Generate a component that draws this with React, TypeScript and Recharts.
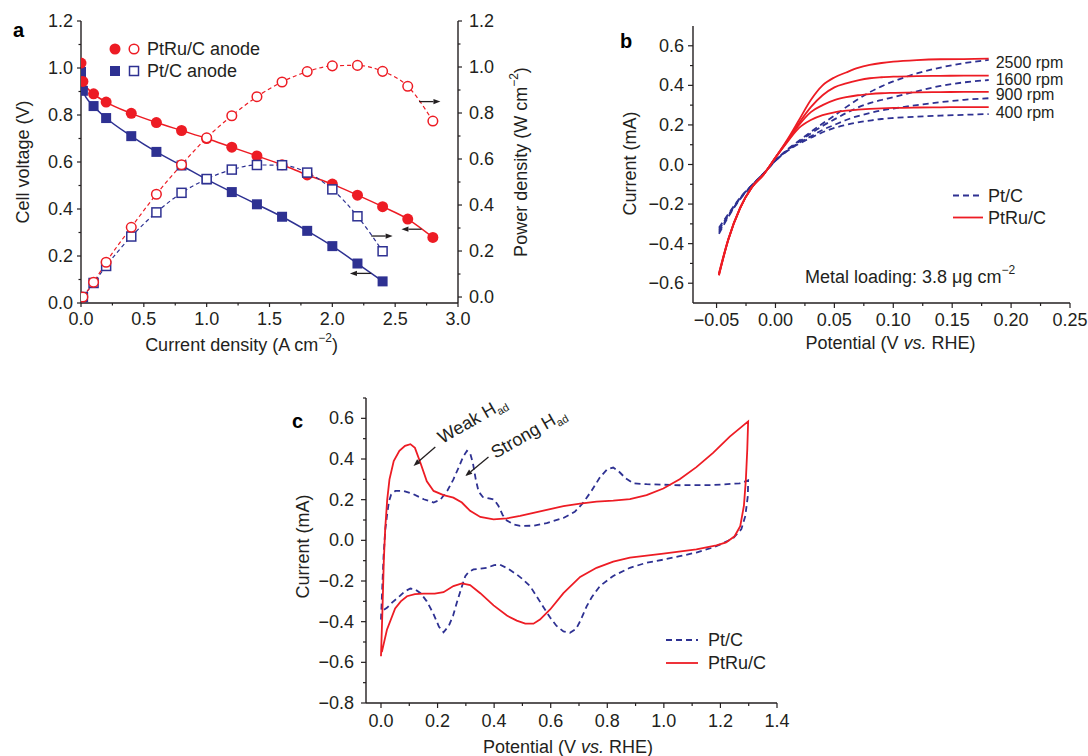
import React from 'react';
import { LineChart, Line, XAxis, YAxis, ReferenceLine, LabelList } from 'recharts';

const INK = '#231f20';
const RED = '#ed1c24';
const BLUE = '#2e3192';
const FONT = '"Liberation Sans", Arial, Helvetica, sans-serif';
const FS = 18;

// ===== Panel a: polarisation (V) and power density curves =====
const currentDensity = [0, 0.015, 0.1, 0.2, 0.4, 0.6, 0.8, 1.0, 1.2, 1.4, 1.6, 1.8, 2.0, 2.2, 2.4, 2.6, 2.8];
const ptRuVoltage = [1.021, 0.943, 0.89, 0.855, 0.807, 0.768, 0.734, 0.7, 0.663, 0.626, 0.588, 0.545, 0.506, 0.459, 0.41, 0.357, 0.279];
const ptVoltage = [0.983, 0.903, 0.838, 0.787, 0.71, 0.643, 0.585, 0.526, 0.472, 0.42, 0.367, 0.307, 0.242, 0.168, 0.092, null, null];
const ptRuPower = [null, 0.0, 0.064, 0.151, 0.303, 0.447, 0.575, 0.692, 0.788, 0.871, 0.935, 0.98, 1.005, 1.007, 0.981, 0.916, 0.765];
const ptPower = [null, 0.0, 0.061, 0.135, 0.263, 0.368, 0.453, 0.513, 0.554, 0.574, 0.573, 0.541, 0.468, 0.351, 0.199, null, null];
const xTicksA = [0, 0.25, 0.5, 0.75, 1, 1.25, 1.5, 1.75, 2, 2.25, 2.5, 2.75, 3];
const yTicksA = [0, 0.1, 0.2, 0.3, 0.4, 0.5, 0.6, 0.7, 0.8, 0.9, 1.0, 1.1, 1.2];
const arrowsA = [
  { from: [2.69, 0.857], to: [2.86, 0.857] },
  { from: [2.71, 0.314], to: [2.55, 0.314] },
  { from: [2.31, 0.285], to: [2.48, 0.285] },
  { from: [2.31, 0.126], to: [2.14, 0.126] },
];

// ===== Panel b: RDE polarisation curves =====
const potentialB = [-0.048, -0.04, -0.03, -0.02, -0.01, 0, 0.01, 0.02, 0.03, 0.04, 0.05, 0.06, 0.07, 0.08, 0.09, 0.1, 0.12, 0.14, 0.16, 0.181];
const ptRu2500 = [-0.56, -0.38, -0.22, -0.115, -0.05, 0.035, 0.125, 0.225, 0.326, 0.4, 0.44, 0.465, 0.488, 0.503, 0.513, 0.52, 0.528, 0.532, 0.533, 0.535];
const ptRu1600 = [-0.56, -0.38, -0.22, -0.115, -0.05, 0.035, 0.12, 0.21, 0.29, 0.35, 0.39, 0.41, 0.425, 0.436, 0.441, 0.444, 0.447, 0.448, 0.449, 0.449];
const ptRu900 = [-0.555, -0.378, -0.22, -0.115, -0.05, 0.035, 0.117, 0.2, 0.265, 0.3, 0.325, 0.34, 0.35, 0.356, 0.36, 0.362, 0.365, 0.366, 0.367, 0.367];
const ptRu400 = [-0.55, -0.375, -0.218, -0.115, -0.05, 0.035, 0.113, 0.185, 0.225, 0.25, 0.264, 0.272, 0.277, 0.281, 0.284, 0.286, 0.288, 0.289, 0.29, 0.29];
const pt2500 = [-0.35, -0.265, -0.175, -0.108, -0.045, 0.02, 0.075, 0.12, 0.165, 0.207, 0.247, 0.29, 0.33, 0.365, 0.395, 0.42, 0.46, 0.49, 0.512, 0.529];
const pt1600 = [-0.34, -0.26, -0.172, -0.106, -0.045, 0.02, 0.072, 0.115, 0.157, 0.195, 0.228, 0.26, 0.288, 0.31, 0.326, 0.34, 0.37, 0.397, 0.415, 0.427];
const pt900 = [-0.33, -0.255, -0.17, -0.105, -0.045, 0.02, 0.07, 0.11, 0.142, 0.175, 0.2, 0.225, 0.245, 0.26, 0.273, 0.283, 0.3, 0.315, 0.327, 0.335];
const pt400 = [-0.32, -0.25, -0.168, -0.104, -0.045, 0.02, 0.068, 0.105, 0.135, 0.163, 0.185, 0.2, 0.213, 0.222, 0.23, 0.235, 0.242, 0.247, 0.251, 0.255];
const rpmLabels = ['2500 rpm', '1600 rpm', '900 rpm', '400 rpm'];
const xTicksB = [-0.05, -0.025, 0, 0.025, 0.05, 0.075, 0.1, 0.125, 0.15, 0.175, 0.2, 0.225, 0.25];
const yTicksB = [-0.6, -0.5, -0.4, -0.3, -0.2, -0.1, 0, 0.1, 0.2, 0.3, 0.4, 0.5, 0.6];

// ===== Panel c: cyclic voltammograms (potential, current) =====
const ptCV: [number, number][] = [
  [0.0, -0.39], [0.004, -0.25], [0.009, -0.08], [0.015, 0.05], [0.021, 0.12], [0.028, 0.19], [0.036, 0.225], [0.051, 0.243],
  [0.08, 0.243], [0.115, 0.227], [0.151, 0.202], [0.186, 0.186], [0.21, 0.2], [0.235, 0.245], [0.256, 0.3], [0.275, 0.36],
  [0.29, 0.41], [0.304, 0.44], [0.315, 0.43], [0.325, 0.38], [0.335, 0.3], [0.345, 0.24], [0.36, 0.213], [0.386, 0.205],
  [0.4, 0.2], [0.415, 0.17], [0.43, 0.125], [0.445, 0.097], [0.47, 0.078], [0.492, 0.071], [0.539, 0.072], [0.586, 0.085],
  [0.645, 0.11], [0.685, 0.14], [0.715, 0.185], [0.745, 0.245], [0.774, 0.31], [0.8, 0.35], [0.821, 0.358], [0.84, 0.34],
  [0.865, 0.305], [0.892, 0.28], [0.939, 0.276], [1.056, 0.271], [1.174, 0.272], [1.268, 0.28], [1.298, 0.295],
  [1.297, 0.22], [1.288, 0.12], [1.274, 0.055], [1.245, 0.01], [1.2, -0.02], [1.174, -0.035], [1.115, -0.06], [1.056, -0.078],
  [0.998, -0.095], [0.939, -0.11], [0.88, -0.135], [0.821, -0.175], [0.774, -0.225], [0.745, -0.28], [0.727, -0.325],
  [0.705, -0.395], [0.69, -0.435], [0.668, -0.455], [0.645, -0.448], [0.62, -0.42], [0.598, -0.38], [0.575, -0.33],
  [0.55, -0.275], [0.527, -0.225], [0.5, -0.19], [0.48, -0.168], [0.45, -0.14], [0.421, -0.12], [0.4, -0.122], [0.374, -0.135],
  [0.35, -0.14], [0.327, -0.143], [0.31, -0.155], [0.298, -0.176], [0.283, -0.24], [0.268, -0.307], [0.255, -0.37],
  [0.24, -0.42], [0.221, -0.452], [0.205, -0.425], [0.185, -0.36], [0.162, -0.3], [0.14, -0.26], [0.12, -0.24], [0.104, -0.237],
  [0.085, -0.25], [0.068, -0.272], [0.04, -0.305], [0.021, -0.332], [0.001, -0.35],
];
const ptRuCV: [number, number][] = [
  [0.0, -0.57], [0.005, -0.35], [0.01, -0.1], [0.015, 0.06], [0.022, 0.2], [0.03, 0.3], [0.045, 0.39], [0.065, 0.44],
  [0.085, 0.465], [0.104, 0.473], [0.12, 0.455], [0.139, 0.383], [0.162, 0.29], [0.186, 0.243], [0.221, 0.222], [0.256, 0.21],
  [0.286, 0.186], [0.315, 0.145], [0.351, 0.115], [0.398, 0.103], [0.445, 0.108], [0.492, 0.12], [0.539, 0.135], [0.586, 0.15],
  [0.645, 0.168], [0.704, 0.18], [0.762, 0.19], [0.821, 0.195], [0.88, 0.203], [0.939, 0.222], [0.998, 0.255], [1.056, 0.3],
  [1.115, 0.36], [1.174, 0.43], [1.233, 0.51], [1.298, 0.585],
  [1.295, 0.45], [1.29, 0.3], [1.283, 0.17], [1.27, 0.07], [1.25, 0.02], [1.22, -0.01], [1.186, -0.025], [1.115, -0.045],
  [0.998, -0.065], [0.88, -0.085], [0.821, -0.105], [0.762, -0.135], [0.704, -0.18], [0.645, -0.26], [0.598, -0.34],
  [0.562, -0.39], [0.539, -0.41], [0.51, -0.41], [0.48, -0.395], [0.445, -0.37], [0.398, -0.32], [0.351, -0.26], [0.315, -0.22],
  [0.286, -0.212], [0.256, -0.225], [0.221, -0.255], [0.19, -0.262], [0.15, -0.262], [0.12, -0.265], [0.092, -0.275],
  [0.07, -0.3], [0.05, -0.335], [0.021, -0.44], [0.003, -0.55],
];
const annotationsC = [
  { text: 'Weak H', from: [0.192, 0.459], to: [0.115, 0.366], dx: 7, dy: -3 },
  { text: 'Strong H', from: [0.38, 0.41], to: [0.298, 0.316], dx: 7, dy: 2 },
];
const xTicksC = [0, 0.1, 0.2, 0.3, 0.4, 0.5, 0.6, 0.7, 0.8, 0.9, 1.0, 1.1, 1.2, 1.3, 1.4];
const yTicksC = [-0.8, -0.7, -0.6, -0.5, -0.4, -0.3, -0.2, -0.1, 0, 0.1, 0.2, 0.3, 0.4, 0.5, 0.6, 0.7];

// ===== tables for recharts =====
const tableA = currentDensity.map((x, i) => ({ x, ptRuV: ptRuVoltage[i], ptV: ptVoltage[i], ptRuP: ptRuPower[i], ptP: ptPower[i] }));
const tableB = potentialB.map((x, i) => ({
  x, r2500: ptRu2500[i], r1600: ptRu1600[i], r900: ptRu900[i], r400: ptRu400[i],
  p2500: pt2500[i], p1600: pt1600[i], p900: pt900[i], p400: pt400[i],
}));
const ptCVData = ptCV.map(([x, y]) => ({ x, y }));
const ptRuCVData = ptRuCV.map(([x, y]) => ({ x, y }));

// ===== helpers =====
const near = (v: number, step: number) => Math.abs(v / step - Math.round(v / step)) < 1e-6;
const fmt = (digits: number) => (v: number) => {
  const r = Math.abs(v) < 1e-9 ? 0 : v;
  return (r < 0 ? '\u2212' : '') + Math.abs(r).toFixed(digits);
};
const textStyle = { fontFamily: FONT, fontSize: FS, fill: INK };
type Side = 'left' | 'right' | 'bottom' | 'top';
const makeTick = (side: Side, step: number, format: ((v: number) => string) | null,
  o: { major?: number; minor?: number; gap?: number; inward?: boolean } = {}) => (props: any) => {
  const { x, y, payload } = props;
  const v = Number(payload?.value);
  const isMajor = near(v, step);
  const len = isMajor ? (o.major ?? 5) : (o.minor ?? 3);
  const s = o.inward ? -1 : 1;
  const gap = o.gap ?? 10;
  let l: React.ReactNode = null;
  let t: React.ReactNode = null;
  const label = isMajor && format ? format(v) : null;
  if (side === 'left') {
    l = <line x1={x} y1={y} x2={x - s * len} y2={y} />;
    if (label) t = <text x={x - gap} y={y} textAnchor="end" dominantBaseline="central" {...textStyle}>{label}</text>;
  } else if (side === 'right') {
    l = <line x1={x} y1={y} x2={x + s * len} y2={y} />;
    if (label) t = <text x={x + gap} y={y} textAnchor="start" dominantBaseline="central" {...textStyle}>{label}</text>;
  } else if (side === 'bottom') {
    l = <line x1={x} y1={y} x2={x} y2={y + s * len} />;
    if (label) t = <text x={x} y={y + gap} textAnchor="middle" dominantBaseline="central" {...textStyle}>{label}</text>;
  } else {
    l = <line x1={x} y1={y} x2={x} y2={y - s * len} />;
  }
  return (
    <g>
      <g stroke={INK} strokeWidth={1.2}>{l}</g>
      {t}
    </g>
  );
};

const axisLine = { stroke: INK, strokeWidth: 1.4 };
const sup = (s: string) => [
  <tspan key="s" dy={-7} fontSize={12}>{s}</tspan>,
  <tspan key="r" dy={7}>)</tspan>,
];
const yTitle = (content: React.ReactNode, dx: number, dy = 0) => (props: any) => {
  const vb = props.viewBox || { x: 0, y: 0, width: 0, height: 0 };
  const cx = vb.x + dx;
  const cy = vb.y + vb.height / 2 + dy;
  return (
    <text x={cx} y={cy} transform={`rotate(-90 ${cx} ${cy})`} textAnchor="middle" dominantBaseline="central" {...textStyle}>
      {content}
    </text>
  );
};
const xTitle = (content: React.ReactNode, dx: number, dy: number) => (props: any) => {
  const vb = props.viewBox || { x: 0, y: 0, width: 0, height: 0 };
  const cx = vb.x + vb.width / 2 + dx;
  const cy = vb.y + dy;
  return (
    <text x={cx} y={cy} textAnchor="middle" dominantBaseline="central" {...textStyle}>{content}</text>
  );
};

const arrowPath = (x1: number, y1: number, x2: number, y2: number) => {
  const ang = Math.atan2(y2 - y1, x2 - x1);
  const L = 7;
  const W = 2.6;
  const bx = x2 - L * Math.cos(ang);
  const by = y2 - L * Math.sin(ang);
  const p1 = `${bx + W * Math.sin(ang)},${by - W * Math.cos(ang)}`;
  const p2 = `${bx - W * Math.sin(ang)},${by + W * Math.cos(ang)}`;
  return (
    <g>
      <line x1={x1} y1={y1} x2={bx} y2={by} stroke={INK} strokeWidth={1.3} />
      <polygon points={`${x2},${y2} ${p1} ${p2}`} fill={INK} />
    </g>
  );
};
const arrowShape = (props: any) => arrowPath(props.x1, props.y1, props.x2, props.y2);
const annotatedArrow = (text: string, dx: number, dy: number) => (props: any) => {
  const tx = props.x1 + dx;
  const ty = props.y1 + dy;
  return (
    <g>
      {arrowPath(props.x1, props.y1, props.x2, props.y2)}
      <text x={tx} y={ty} transform={`rotate(-30 ${tx} ${ty})`} {...textStyle}>
        {text}
        <tspan dy={4} fontSize={11}>ad</tspan>
      </text>
    </g>
  );
};

const dotFilledCircle = (p: any) =>
  p.cx == null || p.cy == null || p.value == null ? <g key={`a${p.index}`} /> :
    <circle key={`a${p.index}`} cx={p.cx} cy={p.cy} r={5.5} fill={RED} />;
const dotOpenCircle = (p: any) =>
  p.cx == null || p.cy == null || p.value == null ? <g key={`b${p.index}`} /> :
    <circle key={`b${p.index}`} cx={p.cx} cy={p.cy} r={4.8} fill="#fff" stroke={RED} strokeWidth={1.5} />;
const dotFilledSquare = (p: any) =>
  p.cx == null || p.cy == null || p.value == null ? <g key={`c${p.index}`} /> :
    <rect key={`c${p.index}`} x={p.cx - 5} y={p.cy - 5} width={10} height={10} fill={BLUE} />;
const dotOpenSquare = (p: any) =>
  p.cx == null || p.cy == null || p.value == null ? <g key={`d${p.index}`} /> :
    <rect key={`d${p.index}`} x={p.cx - 4.5} y={p.cy - 4.5} width={9} height={9} fill="#fff" stroke={BLUE} strokeWidth={1.5} />;

const rpmOffsets = [4, 4, 3, 5.5];
const rpmLabel = (text: string, lastIndex: number, dy: number) => (props: any) => {
  if (props.index !== lastIndex) return null;
  const vb = props.viewBox || {};
  const x = vb.x ?? props.x;
  const y = vb.y ?? props.y;
  if (x == null || y == null) return null;
  return (
    <text x={x + 7} y={y + dy} dominantBaseline="central" {...textStyle} fontSize={16}>{text}</text>
  );
};

function PanelA() {
  return (
    <LineChart width={540} height={360} data={tableA} margin={{ top: 21, right: 0, bottom: 0, left: 0 }}>
      <XAxis xAxisId="top" orientation="top" type="number" dataKey="x" domain={[0, 3]} allowDataOverflow ticks={xTicksA}
        interval={0} height={0} tickSize={0} tickMargin={0} tickLine={false} axisLine={axisLine}
        tick={makeTick('top', 0.5, null, { major: 4, minor: 4, inward: true })} />
      <XAxis xAxisId="main" type="number" dataKey="x" domain={[0, 3]} allowDataOverflow ticks={xTicksA} interval={0}
        height={57} tickSize={0} tickMargin={0} tickLine={false} axisLine={axisLine}
        tick={makeTick('bottom', 0.5, fmt(1), { major: 4, minor: 2.5, gap: 16 })}
        label={xTitle(<>Current density (A cm{sup('\u22122')}</>, -28, 42)} />
      <YAxis yAxisId="v" orientation="left" type="number" domain={[0, 1.2]} allowDataOverflow ticks={yTicksA} interval={0}
        width={81} tickSize={0} tickMargin={0} tickLine={false} axisLine={axisLine}
        tick={makeTick('left', 0.2, fmt(1), { major: 4, minor: 2.5, gap: 8 })}
        label={yTitle('Cell voltage (V)', 23)} />
      <YAxis yAxisId="p" orientation="right" type="number" domain={[-0.026, 1.2]} allowDataOverflow ticks={yTicksA} interval={0}
        width={82} tickSize={0} tickMargin={0} tickLine={false} axisLine={axisLine}
        tick={makeTick('right', 0.2, fmt(1), { major: 4, minor: 2.5, gap: 11 })}
        label={yTitle(<>Power density (W cm{sup('\u22122')}</>, 63)} />
      <Line xAxisId="main" yAxisId="v" dataKey="ptV" type="monotone" stroke={BLUE} strokeWidth={1.5}
        dot={dotFilledSquare} activeDot={false} isAnimationActive={false} />
      <Line xAxisId="main" yAxisId="v" dataKey="ptRuV" type="monotone" stroke={RED} strokeWidth={1.5}
        dot={dotFilledCircle} activeDot={false} isAnimationActive={false} />
      <Line xAxisId="main" yAxisId="p" dataKey="ptP" type="monotone" stroke={BLUE} strokeWidth={1.2} strokeDasharray="4 3"
        dot={dotOpenSquare} activeDot={false} isAnimationActive={false} />
      <Line xAxisId="main" yAxisId="p" dataKey="ptRuP" type="monotone" stroke={RED} strokeWidth={1.2} strokeDasharray="4 3"
        dot={dotOpenCircle} activeDot={false} isAnimationActive={false} />
      {arrowsA.map((a, i) => (
        <ReferenceLine key={i} xAxisId="main" yAxisId="v" ifOverflow="visible"
          segment={[{ x: a.from[0], y: a.from[1] }, { x: a.to[0], y: a.to[1] }]} shape={arrowShape} />
      ))}
    </LineChart>
  );
}

function PanelB() {
  const last = potentialB.length - 1;
  const red = ['r2500', 'r1600', 'r900', 'r400'];
  const blue = ['p2500', 'p1600', 'p900', 'p400'];
  return (
    <LineChart width={488} height={340} data={tableB} margin={{ top: 6, right: 18, bottom: 0, left: 0 }}>
      <XAxis type="number" dataKey="x" domain={[-0.07, 0.25]} allowDataOverflow ticks={xTicksB} interval={0}
        height={57} tickSize={0} tickMargin={0} tickLine={false} axisLine={axisLine}
        tick={makeTick('bottom', 0.05, fmt(2), { major: 5, minor: 3, gap: 17 })}
        label={xTitle(<>Potential (V <tspan fontStyle="italic">vs.</tspan> RHE)</>, 9, 40)} />
      <YAxis type="number" domain={[-0.7, 0.7]} allowDataOverflow ticks={yTicksB} interval={0}
        width={93} tickSize={0} tickMargin={0} tickLine={false} axisLine={axisLine}
        tick={makeTick('left', 0.2, fmt(1), { major: 5, minor: 3, gap: 9 })}
        label={yTitle('Current (mA)', 30, -1)} />
      {blue.map((k) => (
        <Line key={k} dataKey={k} type="monotone" stroke={BLUE} strokeWidth={1.8} strokeDasharray="6 4"
          dot={false} activeDot={false} isAnimationActive={false} />
      ))}
      {red.map((k, i) => (
        <Line key={k} dataKey={k} type="monotone" stroke={RED} strokeWidth={1.8}
          dot={false} activeDot={false} isAnimationActive={false}>
          <LabelList dataKey={k} content={rpmLabel(rpmLabels[i], last, rpmOffsets[i])} />
        </Line>
      ))}
    </LineChart>
  );
}

function PanelC() {
  return (
    <LineChart width={520} height={366} margin={{ top: 8, right: 23, bottom: 0, left: 0 }}>
      <XAxis type="number" dataKey="x" domain={[-0.053, 1.4]} allowDataOverflow ticks={xTicksC} interval={0}
        height={53} tickSize={0} tickMargin={0} tickLine={false} axisLine={axisLine}
        tick={makeTick('bottom', 0.2, fmt(1), { major: 5, minor: 3, gap: 18 })}
        label={xTitle(<>Potential (V <tspan fontStyle="italic">vs.</tspan> RHE)</>, -3.5, 44)} />
      <YAxis type="number" domain={[-0.8, 0.7]} allowDataOverflow ticks={yTicksC} interval={0}
        width={86} tickSize={0} tickMargin={0} tickLine={false} axisLine={axisLine}
        tick={makeTick('left', 0.2, fmt(1), { major: 5, minor: 3, gap: 12 })}
        label={yTitle('Current (mA)', 23, -4)} />
      <Line data={ptCVData} dataKey="y" type="linear" stroke={BLUE} strokeWidth={1.8} strokeDasharray="6 4"
        dot={false} activeDot={false} isAnimationActive={false} />
      <Line data={ptRuCVData} dataKey="y" type="linear" stroke={RED} strokeWidth={1.8}
        dot={false} activeDot={false} isAnimationActive={false} />
      {annotationsC.map((a, i) => (
        <ReferenceLine key={i} ifOverflow="visible"
          segment={[{ x: a.from[0], y: a.from[1] }, { x: a.to[0], y: a.to[1] }]}
          shape={annotatedArrow(a.text, a.dx, a.dy)} />
      ))}
    </LineChart>
  );
}

function Overlay() {
  return (
    <svg width={1088} height={756} style={{ position: 'absolute', left: 0, top: 0, pointerEvents: 'none' }}>
      {/* panel letters */}
      <text x={13} y={37} fontFamily={FONT} fontWeight={900} fontSize={20} fill="#000">a</text>
      <text x={620} y={48} fontFamily={FONT} fontWeight={900} fontSize={20} fill="#000">b</text>
      <text x={292} y={428} fontFamily={FONT} fontWeight={900} fontSize={20} fill="#000">c</text>
      {/* legend a */}
      <circle cx={115} cy={49} r={5.5} fill={RED} />
      <circle cx={134} cy={49} r={4.8} fill="#fff" stroke={RED} strokeWidth={1.5} />
      <text x={147} y={49} dominantBaseline="central" {...textStyle}>PtRu/C anode</text>
      <rect x={110} y={66} width={10} height={10} fill={BLUE} />
      <rect x={129.5} y={66.5} width={9} height={9} fill="#fff" stroke={BLUE} strokeWidth={1.5} />
      <text x={147} y={71} dominantBaseline="central" {...textStyle}>Pt/C anode</text>
      {/* legend b */}
      <line x1={953} y1={195.5} x2={983} y2={195.5} stroke={BLUE} strokeWidth={1.8} strokeDasharray="6 4" />
      <text x={988} y={195.5} dominantBaseline="central" {...textStyle}>Pt/C</text>
      <line x1={953} y1={217.5} x2={983} y2={217.5} stroke={RED} strokeWidth={1.8} />
      <text x={988} y={217.5} dominantBaseline="central" {...textStyle}>PtRu/C</text>
      <text x={805} y={277} dominantBaseline="central" {...textStyle}>
        Metal loading: 3.8 {'\u03bc'}g cm<tspan dy={-7} fontSize={12}>{'\u22122'}</tspan>
      </text>
      {/* legend c */}
      <line x1={666} y1={640} x2={698} y2={640} stroke={BLUE} strokeWidth={1.8} strokeDasharray="6 4" />
      <text x={708} y={640} dominantBaseline="central" {...textStyle}>Pt/C</text>
      <line x1={666} y1={663} x2={698} y2={663} stroke={RED} strokeWidth={1.8} />
      <text x={708} y={663} dominantBaseline="central" {...textStyle}>PtRu/C</text>
    </svg>
  );
}

export default function App() {
  return (
    <div style={{ position: 'absolute', left: 0, top: 0, width: 1088, height: 756, background: '#fff', fontFamily: FONT }}>
      <div style={{ position: 'absolute', left: 0, top: 0 }}><PanelA /></div>
      <div style={{ position: 'absolute', left: 600, top: 20 }}><PanelB /></div>
      <div style={{ position: 'absolute', left: 280, top: 390 }}><PanelC /></div>
      <Overlay />
    </div>
  );
}
